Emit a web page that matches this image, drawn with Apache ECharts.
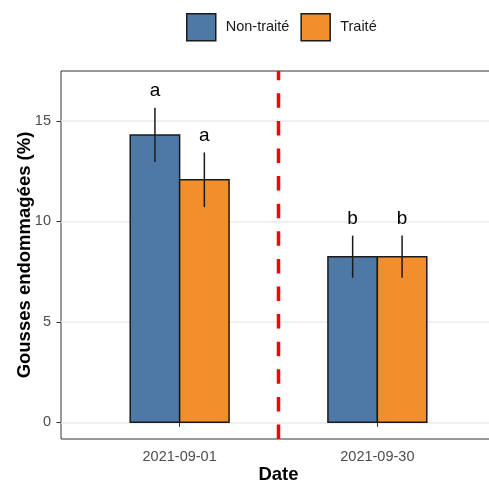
<!DOCTYPE html>
<html>
<head>
<meta charset="utf-8">
<script src="https://cdn.jsdelivr.net/npm/echarts@6/dist/echarts.min.js"></script>
<style>
  html, body { margin: 0; padding: 0; background: #ffffff; }
  #chart { width: 489px; height: 482px; }
</style>
</head>
<body>
<div id="chart"></div>
<script>
// ---- Data ----
const categories = ['2021-09-01', '2021-09-30'];
const seriesNames = ['Non-traité', 'Traité'];
const nonTraiteMean = [14.3, 8.24];
const nonTraiteSE = [1.35, 1.05];
const nonTraiteLetters = ['a', 'b'];
const traiteMean = [12.07, 8.24];
const traiteSE = [1.36, 1.05];
const traiteLetters = ['a', 'b'];
const yTicks = [0, 5, 10, 15];
const separatorPosition = 1.5; // between the two dates

// ---- Styles ----
const FONT = 'Liberation Sans, Arial, Helvetica, sans-serif';
const colors = ['#4E79A7', '#F28E2B'];
const yMin = -0.83, yMax = 17.48;
const xMin = 0.4, xMax = 2.6;
const barW = 0.25; // data units
const xPos = categories.map((c, i) => i + 1);

function makeSeries(name, means, ses, letters, color, side) {
  return {
    type: 'custom',
    name: name,
    itemStyle: { color: color },
    encode: { x: 0, y: 1 },
    data: xPos.map((x, i) => [x, means[i], ses[i]]),
    z: 3,
    renderItem: function (params, api) {
      const x = api.value(0), m = api.value(1), s = api.value(2);
      const x0 = side < 0 ? x - barW : x;
      const xc = x0 + barW / 2;
      const pA = api.coord([x0, 0]);
      const pB = api.coord([x0 + barW, m]);
      const pTop = api.coord([xc, m + s]);
      const pBot = api.coord([xc, m - s]);
      return {
        type: 'group',
        children: [
          {
            type: 'rect',
            shape: { x: pA[0], y: pB[1], width: pB[0] - pA[0], height: pA[1] - pB[1] },
            style: { fill: color, stroke: '#1a1a1a', lineWidth: 1.5 }
          },
          {
            type: 'line',
            shape: { x1: pTop[0], y1: pTop[1], x2: pBot[0], y2: pBot[1] },
            style: { stroke: '#1a1a1a', lineWidth: 1.5 },
            z2: 5
          },
          {
            type: 'text',
            x: pTop[0], y: pTop[1] - 17,
            style: {
              text: letters[params.dataIndex],
              fill: '#000',
              font: '19px ' + FONT,
              align: 'center',
              verticalAlign: 'middle'
            },
            z2: 6
          }
        ]
      };
    }
  };
}

const chart = echarts.init(document.getElementById('chart'), null, { renderer: 'canvas' });
chart.setOption({
  animation: false,
  backgroundColor: '#ffffff',
  textStyle: { fontFamily: FONT },
  legend: {
    top: 13,
    left: 186,
    padding: 0,
    icon: 'rect',
    itemWidth: 29,
    itemHeight: 27,
    itemGap: 11,
    textStyle: { fontSize: 14.5, color: '#1a1a1a', fontFamily: FONT, padding: [0, 0, 0, 5] },
    data: seriesNames.map((n, i) => ({
      name: n,
      itemStyle: { color: colors[i], borderColor: '#1a1a1a', borderWidth: 1.5 }
    }))
  },
  grid: {
    left: 61, top: 71, width: 435, height: 368,
    show: true, borderColor: '#333333', borderWidth: 1, backgroundColor: 'transparent',
    containLabel: false,
    outerBoundsMode: 'none'
  },
  xAxis: {
    type: 'value',
    min: xMin, max: xMax,
    name: 'Date',
    nameLocation: 'middle',
    nameGap: 26,
    nameMoveOverlap: false,
    nameTextStyle: { fontSize: 18.5, fontWeight: 'bold', color: '#000', fontFamily: FONT },
    axisLine: { show: false },
    axisTick: { show: true, length: 4.5, lineStyle: { color: '#333333', width: 1 }, customValues: xPos },
    axisLabel: {
      customValues: xPos,
      fontSize: 14.5, color: '#4d4d4d', margin: 10, fontFamily: FONT,
      formatter: v => categories[Math.round(v) - 1] || ''
    },
    splitLine: { show: false }
  },
  yAxis: {
    type: 'value',
    min: yMin, max: yMax,
    name: 'Gousses endommagées (%)',
    nameLocation: 'middle',
    nameGap: 27,
    nameMoveOverlap: false,
    nameTextStyle: { fontSize: 18.5, fontWeight: 'bold', color: '#000', fontFamily: FONT },
    axisLine: { show: false },
    axisTick: { show: true, length: 4.5, lineStyle: { color: '#333333', width: 1 }, customValues: yTicks },
    axisLabel: { customValues: yTicks, fontSize: 14.5, color: '#4d4d4d', margin: 10, fontFamily: FONT },
    splitLine: { show: true, lineStyle: { color: '#ebebeb', width: 1.5 } }
  },
  series: [
    {
      type: 'line',
      name: 'separator',
      silent: true,
      symbol: 'none',
      z: 4,
      data: [[separatorPosition, yMin], [separatorPosition, yMax]],
      lineStyle: { color: '#ff0000', width: 3.5, type: [14.5, 13.1], dashOffset: 0 }
    },
    makeSeries(seriesNames[0], nonTraiteMean, nonTraiteSE, nonTraiteLetters, colors[0], -1),
    makeSeries(seriesNames[1], traiteMean, traiteSE, traiteLetters, colors[1], 1)
  ]
});
</script>
</body>
</html>
